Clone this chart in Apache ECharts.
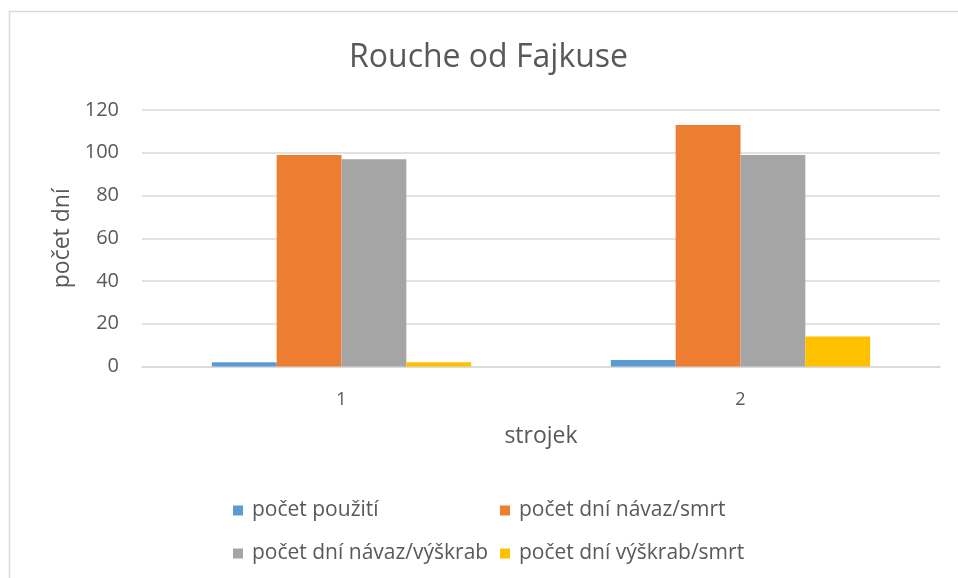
<!DOCTYPE html>
<html>
<head>
<meta charset="utf-8">
<script src="https://cdn.jsdelivr.net/npm/echarts@6/dist/echarts.min.js"></script>
<style>
  html, body { margin: 0; padding: 0; background: #fff; }
  #chart { width: 958px; height: 578px; }
</style>
</head>
<body>
<div id="chart"></div>
<script>
// Categories (machines) and the four measured series
const categories = ['1', '2'];
const seriesNames = ['počet použití', 'počet dní návaz/smrt', 'počet dní návaz/výškrab', 'počet dní výškrab/smrt'];
const pocetPouziti = [2, 3];
const navazSmrt = [99, 113];
const navazVyskrab = [97, 99];
const vyskrabSmrt = [2, 14];
const yTicks = [0, 20, 40, 60, 80, 100, 120];

const colors = ['#5b9bd5', '#ed7d31', '#a5a5a5', '#ffc000'];
const values = [pocetPouziti, navazSmrt, navazVyskrab, vyskrabSmrt];
const font = '"Open Sans", "Noto Sans", sans-serif';
const textColor = '#595959';

const chart = echarts.init(document.getElementById('chart'), null, { renderer: 'canvas' });

// one legend per item, laid out as a 2x2 block
const legendPos = [
  { left: 228, top: 495 }, { left: 495, top: 495 },
  { left: 228, top: 538 }, { left: 495, top: 538 }
];

const option = {
  backgroundColor: '#fff',
  animation: false,
  color: colors,
  title: {
    text: 'Rouche od Fajkuse',
    left: 344,
    top: 37,
    textStyle: { fontFamily: font, fontSize: 32, fontWeight: 'normal', color: textColor }
  },
  graphic: [{
    type: 'rect',
    shape: { x: 9.5, y: 11.5, width: 1000, height: 1000 },
    style: { fill: 'none', stroke: '#d9d9d9', lineWidth: 1.5 },
    silent: true
  }],
  legend: legendPos.map((p, i) => ({
    left: p.left,
    top: p.top,
    data: [seriesNames[i]],
    icon: 'rect',
    itemWidth: 10,
    itemHeight: 10,
    itemGap: 0,
    textStyle: { fontFamily: font, fontSize: 21, color: textColor, padding: [0, 0, 0, 4] }
  })),
  grid: { left: 142, right: 18, top: 110, height: 256.5, containLabel: false },
  xAxis: {
    type: 'category',
    data: categories,
    name: 'strojek',
    nameLocation: 'middle',
    nameGap: 58,
    nameTextStyle: { fontFamily: font, fontSize: 23, color: textColor },
    axisLine: { lineStyle: { color: '#d9d9d9', width: 1.5 } },
    axisTick: { show: false },
    axisLabel: { fontFamily: font, fontSize: 18, color: textColor, margin: 24 }
  },
  yAxis: {
    type: 'value',
    min: yTicks[0],
    max: yTicks[yTicks.length - 1],
    interval: yTicks[1] - yTicks[0],
    name: 'počet dní',
    nameLocation: 'middle',
    nameGap: 66,
    nameRotate: 90,
    nameTextStyle: { fontFamily: font, fontSize: 23, color: textColor },
    axisLine: { show: false },
    axisTick: { show: false },
    axisLabel: { fontFamily: font, fontSize: 20, color: textColor, margin: 23 },
    splitLine: { lineStyle: { color: '#d9d9d9', width: 1.5 } }
  },
  series: seriesNames.map((name, i) => ({
    name: name,
    type: 'bar',
    data: values[i],
    barGap: '0%',
    barCategoryGap: '35%',
    itemStyle: { color: colors[i] }
  }))
};

chart.setOption(option);
</script>
</body>
</html>
